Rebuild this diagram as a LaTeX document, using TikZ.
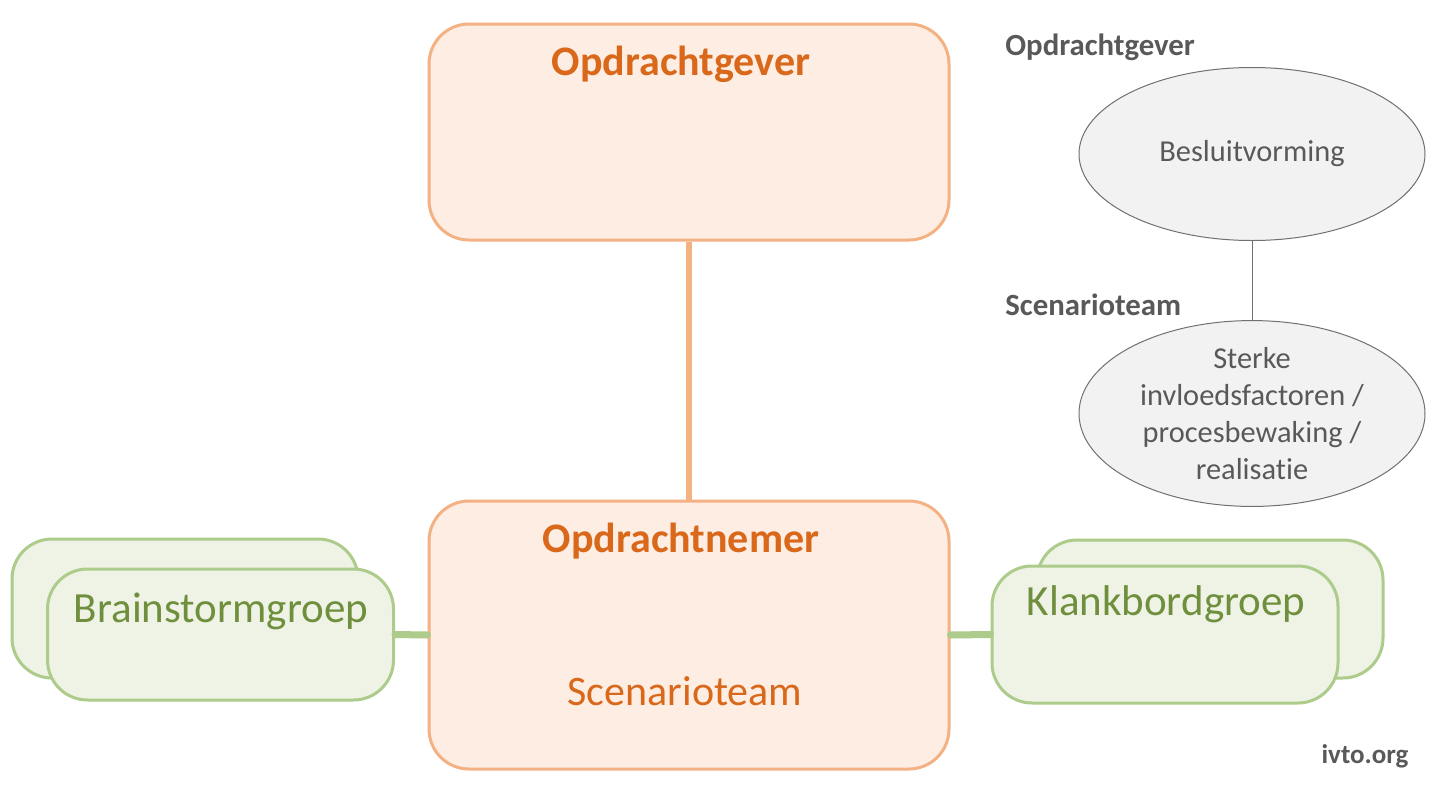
\documentclass[tikz,border=0pt]{standalone}
\usepackage{fontspec}
\setmainfont{Carlito}[Ligatures={NoCommon}]
\usetikzlibrary{shapes.geometric}
\definecolor{orstroke}{HTML}{F4B183}
\definecolor{orfill}{HTML}{FDEDE3}
\definecolor{ortext}{HTML}{D9681A}
\definecolor{gstroke}{HTML}{ADCB8A}
\definecolor{gfill}{HTML}{EEF3E6}
\definecolor{gtext}{HTML}{6F8F3D}
\definecolor{graytext}{HTML}{595959}
\definecolor{ellfill}{HTML}{F2F2F2}
\definecolor{ellstroke}{HTML}{707070}
\begin{document}
\begin{tikzpicture}[x=0.5pt,y=-0.5pt,
  obox/.style={draw=orstroke, line width=1.5pt, fill=orfill, rounded corners=20pt,
    minimum width=260pt, inner sep=0pt},
  gbox/.style={draw=gstroke, line width=1.5pt, fill=gfill, rounded corners=20pt,
    minimum width=173pt, inner sep=0pt},
  otitle/.style={anchor=base, inner sep=0pt, text=ortext, font=\fontsize{21}{25}\selectfont\bfseries},
  otext/.style={anchor=base, inner sep=0pt, text=ortext, font=\fontsize{21}{25}\selectfont},
  gtxt/.style={anchor=base, inner sep=0pt, text=gtext, font=\fontsize{21.5}{25}\selectfont},
  glabel/.style={anchor=base west, inner sep=0pt, text=graytext, font=\fontsize{15.4}{18}\selectfont\bfseries},
  ell/.style={ellipse, draw=ellstroke, line width=0.5pt, fill=ellfill, minimum width=173pt,
    minimum height=86.5pt, inner sep=0pt, text=graytext, align=center,
    font=\fontsize{15.2}{18.35}\selectfont},
  oline/.style={draw=orstroke, line width=3pt},
  gline/.style={draw=gstroke, line width=3.5pt, line cap=round},
  eline/.style={draw=ellstroke, line width=0.5pt}
]
\path[fill=white] (0,0) rectangle (1442,788);
\useasboundingbox (0,0) rectangle (1442,788);

% orange boxes
\node[obox, minimum height=108pt] (gever) at (689,132) {};
\node[obox, minimum height=134pt] (nemer) at (689,635) {};
\draw[oline] (gever.south) -- (nemer.north);
\node[otitle] (geverT) at (681,75) {Opdrachtgever};
\node[otitle] (nemerT) at (681,552) {Opdrachtnemer};
\node[otext] (scen) at (685,705) {Scenarioteam};

% green boxes left
\node[gbox, minimum height=69.5pt] (bback) at (185,608.5) {};
\node[gbox, minimum height=65.5pt] (bfront) at (220.5,634.5) {};
\node[gtxt] (bT) at (221,622) {Brainstormgroep};
\draw[gline] (bfront.east) -- (nemer.west);

% green boxes right
\node[gbox, minimum height=69pt] (kback) at (1210,609) {};
\node[gbox, minimum height=68.5pt] (kfront) at (1165,634.5) {};
\node[gtxt] (kT) at (1166,615) {Klankbordgroep};
\draw[gline] (nemer.east) -- (kfront.west);

% right legend
\node[glabel] (lgever) at (1005,55) {Opdrachtgever};
\node[glabel] (lscen) at (1005,315) {Scenarioteam};
\node[ell] (e1) at (1252,154) {Besluitvorming};
\node[ell] (e2) at (1252,413.5) {Sterke\\invloedsfactoren /\\procesbewaking /\\realisatie};
\draw[eline] (e1.south) -- (e2.north);

\node[anchor=base, inner sep=0pt, text=graytext, font=\fontsize{13.5}{16}\selectfont\bfseries] (src) at (1365,763) {ivto.org};
\end{tikzpicture}
\end{document}
